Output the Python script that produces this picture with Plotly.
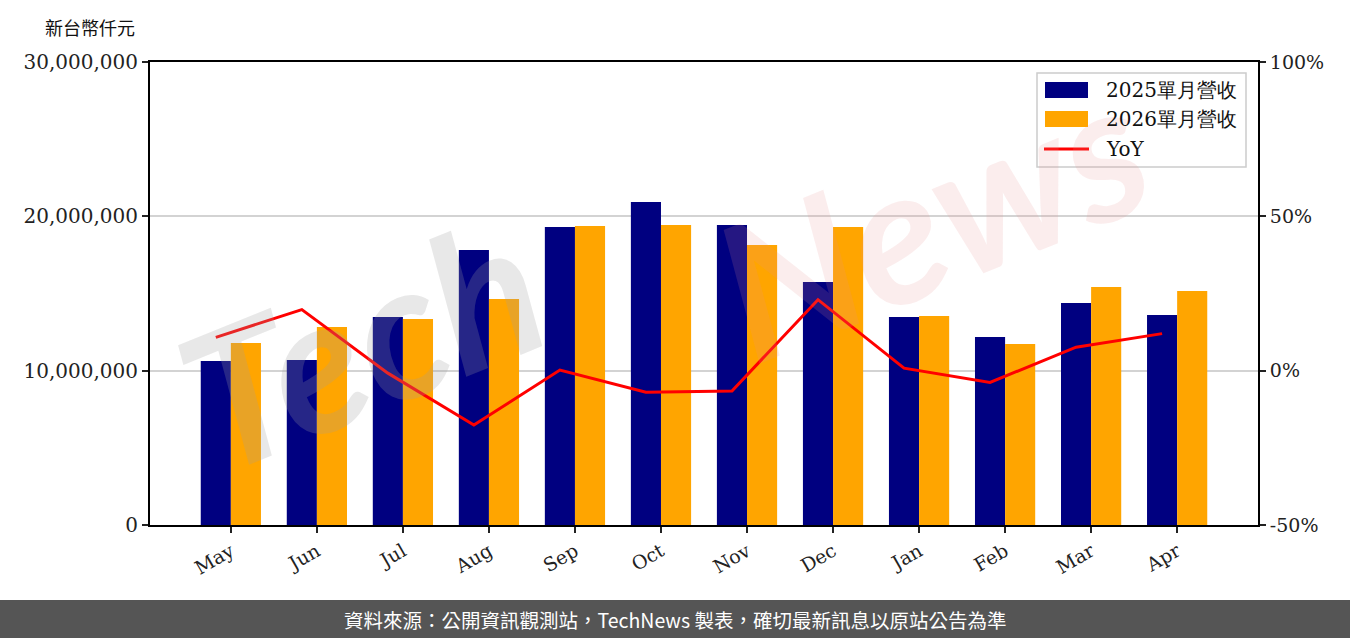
import plotly.graph_objects as go

months = ["May", "Jun", "Jul", "Aug", "Sep", "Oct", "Nov", "Dec", "Jan", "Feb", "Mar", "Apr"]
rev_2025 = [10630000, 10690000, 13480000, 17820000, 19310000, 20930000, 19440000,
            15750000, 13480000, 12180000, 14380000, 13610000]
rev_2026 = [11790000, 12830000, 13350000, 14640000, 19370000, 19440000, 18140000,
            19310000, 13540000, 11730000, 15420000, 15160000]
yoy = [10.8, 19.8, -0.8, -17.6, 0.2, -7.0, -6.6, 23.0, 0.8, -3.8, 7.6, 12.0]

label_2025 = "2025單月營收"
label_2026 = "2026單月營收"
label_yoy = "YoY"
unit_text = "新台幣仟元"
footer_text = "資料來源：公開資訊觀測站，TechNews 製表，確切最新訊息以原站公告為準"

c_2025 = "#000080"
c_2026 = "#FFA500"
c_yoy = "#FF0000"

idx = list(range(len(months)))
bw = 0.35

serif = "DejaVu Serif"

# plot-area geometry in pixels (for paper-coordinate helpers)
L, R, T, B = 150, 1258, 62, 525
PW, PH = R - L, B - T


def px(x):
    return (x - L) / PW


def py(y):
    return (B - y) / PH


fig = go.Figure()
fig.add_trace(go.Bar(x=idx, y=rev_2025, name=label_2025, width=bw, offset=-bw,
                     marker=dict(color=c_2025, line=dict(width=0))))
fig.add_trace(go.Bar(x=idx, y=rev_2026, name=label_2026, width=bw, offset=0,
                     marker=dict(color=c_2026, line=dict(width=0))))
fig.add_trace(go.Scatter(x=[i - bw / 2 for i in idx], y=yoy, name=label_yoy, yaxis="y2",
                         mode="lines", line=dict(color=c_yoy, width=3)))

fig.update_layout(
    width=1350, height=638,
    margin=dict(l=L, r=1350 - R, t=T, b=638 - B),
    paper_bgcolor="white", plot_bgcolor="white",
    showlegend=False,
    barmode="overlay",
    font=dict(family=serif, size=18, color="#111111"),
    xaxis=dict(
        range=[-0.94, 11.94], tickmode="array", tickvals=idx, ticktext=months,
        tickangle=-30, ticks="outside", ticklen=6, tickwidth=1.5, tickcolor="#222",
        showline=True, linecolor="black", linewidth=2, mirror=True,
        showgrid=False, zeroline=False,
        tickfont=dict(family=serif, size=19, color="#222"),
    ),
    yaxis=dict(
        range=[0, 30000000], tickmode="array",
        tickvals=[0, 10000000, 20000000, 30000000], tickformat=",d",
        ticks="outside", ticklen=6, tickwidth=1.5, tickcolor="#222",
        showline=True, linecolor="black", linewidth=2,
        showgrid=True, gridcolor="#d3d3d3", gridwidth=1.5, zeroline=False,
        tickfont=dict(family=serif, size=20, color="#222"),
    ),
    yaxis2=dict(
        range=[-50, 100], overlaying="y", side="right", tickmode="array",
        tickvals=[-50, 0, 50, 100], ticktext=["-50%", "0%", "50%", "100%"],
        ticks="outside", ticklen=6, tickwidth=1.5, tickcolor="#222",
        showline=True, linecolor="black", linewidth=2,
        showgrid=False, zeroline=False,
        tickfont=dict(family=serif, size=19, color="#222"),
    ),
)

# watermark
fig.add_annotation(text="<i><b>Tech</b></i>", xref="paper", yref="paper",
                   x=px(360), y=py(340), showarrow=False,
                   textangle=-22, xanchor="center", yanchor="middle",
                   font=dict(family="Lato", size=190, color="rgba(160,160,160,0.24)"))
fig.add_annotation(text="<i><b>News</b></i>", xref="paper", yref="paper",
                   x=px(930), y=py(215), showarrow=False,
                   textangle=-22, xanchor="center", yanchor="middle",
                   font=dict(family="Lato", size=190, color="rgba(230,140,140,0.16)"))

# custom legend (box, swatches, labels)
fig.add_shape(type="rect", xref="paper", yref="paper",
              x0=px(1037), x1=px(1246), y0=py(167), y1=py(73),
              fillcolor="rgba(255,255,255,0.85)", line=dict(color="#cccccc", width=1.5),
              layer="above")
legend_items = [(label_2025, c_2025, 90, "bar"), (label_2026, c_2026, 119, "bar"),
                (label_yoy, c_yoy, 149, "line")]
for text, color, yc, kind in legend_items:
    if kind == "bar":
        fig.add_shape(type="rect", xref="paper", yref="paper",
                      x0=px(1045), x1=px(1088), y0=py(yc + 8), y1=py(yc - 8),
                      fillcolor=color, line=dict(width=0), layer="above")
    else:
        fig.add_shape(type="line", xref="paper", yref="paper",
                      x0=px(1044), x1=px(1089), y0=py(yc), y1=py(yc),
                      line=dict(color=color, width=3), layer="above")
    fig.add_annotation(text=text, xref="paper", yref="paper",
                       x=px(1104), y=py(yc), showarrow=False,
                       xanchor="left", yanchor="middle",
                       font=dict(family=serif, size=20, color="#111"))

# footer bar
fig.add_shape(type="rect", xref="paper", yref="paper",
              x0=px(0), x1=px(1350), y0=py(638), y1=py(600),
              fillcolor="#555555", line=dict(width=0), layer="above")
fig.add_annotation(text=footer_text, xref="paper", yref="paper",
                   x=px(675), y=py(619), showarrow=False,
                   xanchor="center", yanchor="middle",
                   font=dict(family="Noto Sans CJK TC", size=19.5, color="white"))

# unit label
fig.add_annotation(text=unit_text, xref="paper", yref="paper",
                   x=px(43), y=py(27), showarrow=False,
                   xanchor="left", yanchor="middle",
                   font=dict(family="Noto Sans CJK TC", size=18, color="#111"))

fig.write_html("out.html", config={"displayModeBar": False},
               post_script="document.body.style.margin='0';document.body.style.overflow='hidden';")
